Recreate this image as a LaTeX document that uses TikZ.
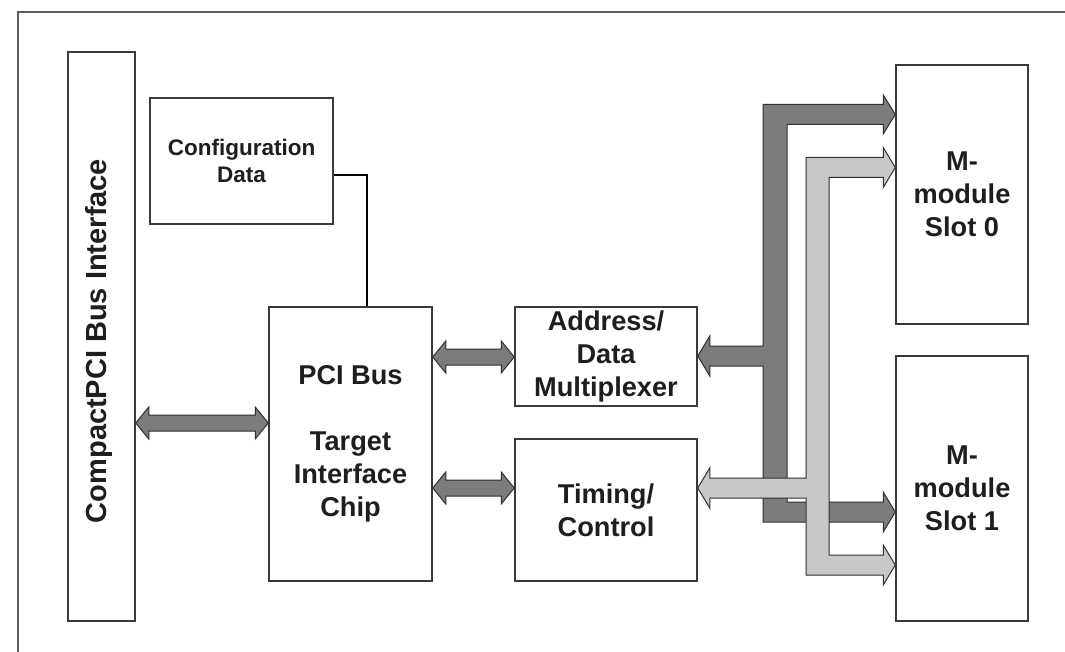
\documentclass[tikz,border=0pt]{standalone}
\usepackage{fontspec}
\setmainfont{Liberation Sans}
\usetikzlibrary{calc}
\definecolor{boxline}{HTML}{3A3A3A}
\definecolor{framec}{HTML}{5E5E5E}
\definecolor{busdk}{HTML}{7C7C7C}
\definecolor{buslt}{HTML}{C8C8C8}
\definecolor{busedge}{HTML}{303030}
\definecolor{txt}{HTML}{1E1E1E}
\tikzset{
  blk/.style={draw=boxline, line width=1.5pt, fill=white, inner sep=0pt,
    align=center, text=txt, font=\bfseries\fontsize{27.2}{33}\selectfont},
  smallblk/.style={blk, font=\bfseries\fontsize{22.5}{27}\selectfont},
  vlabel/.style={inner sep=0pt, text=txt, rotate=90, font=\bfseries\fontsize{29}{33}\selectfont},
  frameline/.style={draw=framec, line width=2pt},
  wire/.style={draw=black, line width=1.2pt},
  busdark/.style={fill=busdk, draw=busedge, line width=1pt, line join=miter},
  buslight/.style={fill=buslt, draw=busedge, line width=1pt, line join=miter},
}
\newcommand\dblbus[2]{\draw[busdark] (#1) -- ++(13,-16) -- ++(0,8) -- ($(#2)+(-13,-8)$) -- ++(0,-8) -- (#2) -- ++(-13,16) -- ++(0,-8) -- ($(#1)+(13,8)$) -- ++(0,8) -- cycle;}
\begin{document}
\begin{tikzpicture}[x=1pt, y=-1pt]
  \useasboundingbox (0,0) rectangle (1065,652);
  \fill[white] (0,0) rectangle (1065,652);
  % outer frame (only top and left visible)
  \draw[frameline] (18,652) -- (18,12) -- (1065,12);

  % blocks
  \node[blk, minimum width=67pt, minimum height=569pt] (cpci) at (101.5,336.5) {};
  \node[vlabel] (cpcitext) at (99,341) {CompactPCI Bus Interface};
  \node[smallblk, minimum width=183pt, minimum height=126pt] (config) at (241.5,161) {Configuration\\Data};
  \node[blk, minimum width=163pt, minimum height=274pt] (pci) at (350.5,444) {PCI Bus\\[33pt]Target\\Interface\\Chip};
  \node[blk, minimum width=182pt, minimum height=99pt] (addr) at (606,356.5) {Address/\\Data\\Multiplexer};
  \node[blk, minimum width=182pt, minimum height=142pt] (timing) at (606,510) {Timing/\\Control};
  \node[blk, minimum width=132pt, minimum height=259pt] (slot0) at (962,194.5) {M-\\module\\Slot 0};
  \node[blk, minimum width=132pt, minimum height=265pt] (slot1) at (962,488.5) {M-\\module\\Slot 1};

  % configuration wire
  \coordinate (cl) at (367,175);
  \draw[wire] (config.east |- cl) -| (pci.north -| cl);

  % helper coordinates for bus levels
  \coordinate (yL) at (0,423);
  \coordinate (yA) at (0,357);
  \coordinate (yT) at (0,488);
  \coordinate (ad) at (0,356);
  \coordinate (y0a) at (0,114.5);
  \coordinate (y0b) at (0,167.5);
  \coordinate (y1a) at (0,512);
  \coordinate (y1b) at (0,565);

  % short double bus arrows
  \dblbus{cpci.east |- yL}{pci.west |- yL}
  \dblbus{pci.east |- yA}{addr.west |- yA}
  \dblbus{pci.east |- yT}{timing.west |- yT}

  % tips on the right
  \coordinate (tAd) at (addr.east |- ad);
  \coordinate (tTm) at (timing.east |- yT);
  \coordinate (s0a) at (slot0.west |- y0a);
  \coordinate (s0b) at (slot0.west |- y0b);
  \coordinate (s1a) at (slot1.west |- y1a);
  \coordinate (s1b) at (slot1.west |- y1b);

  % dark bus (address/data)
  \draw[busdark] (tAd) -- ++(12,-20) -- ++(0,10) -- (763,346) -- (763,104.5)
    -- ($(s0a)+(-12,-10)$) -- ++(0,-9.5) -- (s0a) -- ++(-12,19.5) -- ++(0,-9.5)
    -- (787,124.5) -- (787,502)
    -- ($(s1a)+(-12,-10)$) -- ++(0,-10) -- (s1a) -- ++(-12,20) -- ++(0,-10)
    -- (763,522) -- (763,366) -- ($(tAd)+(12,10)$) -- ++(0,10) -- cycle;

  % light bus (timing/control)
  \draw[buslight] (tTm) -- ++(12,-20) -- ++(0,10) -- (806,478) -- (806,157.5)
    -- ($(s0b)+(-12,-10)$) -- ++(0,-10) -- (s0b) -- ++(-12,20) -- ++(0,-10)
    -- (829,177.5) -- (829,555)
    -- ($(s1b)+(-12,-10)$) -- ++(0,-10) -- (s1b) -- ++(-12,20) -- ++(0,-10)
    -- (806,575) -- (806,498) -- ($(tTm)+(12,10)$) -- ++(0,10) -- cycle;
\end{tikzpicture}
\end{document}
